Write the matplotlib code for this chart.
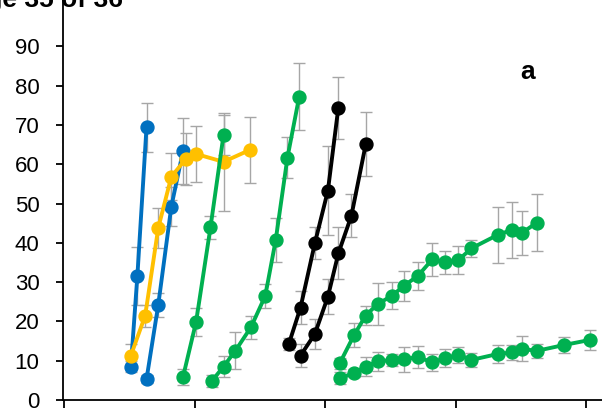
import matplotlib.pyplot as plt

# x positions (days) and mean values with error bars
blue1_x = [5.1, 5.6, 6.3]
blue1_y = [8.5, 31.6, 69.4]
blue1_err = [1.5, 7.3, 6.2]

blue2_x = [6.3, 7.2, 8.2, 9.1]
blue2_y = [5.3, 24.2, 49.2, 63.4]
blue2_err = [1.0, 3.0, 5.0, 8.4]

yellow_x = [5.1, 6.2, 7.2, 8.2, 9.3, 10.1, 12.2, 14.2]
yellow_y = [11.3, 21.5, 43.8, 56.8, 61.3, 62.6, 60.6, 63.6]
yellow_err = [3.0, 2.8, 5.0, 6.0, 6.6, 7.1, 12.5, 8.3]

green1_x = [9.1, 10.1, 11.2, 12.2]
green1_y = [5.9, 19.9, 43.9, 67.4]
green1_err = [2.0, 3.5, 3.0, 5.0]

green2_x = [11.3, 12.2, 13.1, 14.3, 15.4, 16.2, 17.1, 18.0]
green2_y = [4.8, 8.5, 12.5, 18.5, 26.5, 40.7, 61.7, 77.2]
green2_err = [1.5, 2.6, 4.7, 3.0, 3.0, 5.5, 5.2, 8.5]

black1_x = [17.2, 18.1, 19.2, 20.2, 21.0]
black1_y = [14.2, 23.5, 39.9, 53.3, 74.4]
black1_err = [1.5, 4.2, 4.0, 11.4, 7.9]

black2_x = [18.1, 19.2, 20.2, 21.0, 22.0, 23.1]
black2_y = [11.3, 16.8, 26.3, 37.3, 46.9, 65.1]
black2_err = [3.0, 3.7, 4.5, 6.6, 5.5, 8.1]

green3_x = [21.1, 22.2, 23.1, 24.0, 25.1, 26.0, 27.1, 28.2, 29.2, 30.2, 31.2,
            33.2, 34.3, 35.1, 36.2]
green3_y = [9.3, 16.5, 21.5, 24.4, 26.5, 29.0, 31.6, 35.8, 35.0, 35.6, 38.6,
            42.0, 43.3, 42.6, 45.1]
green3_err = [1.5, 3.0, 2.5, 5.3, 3.4, 3.9, 3.5, 4.2, 3.0, 3.5, 2.2,
              7.1, 7.2, 5.6, 7.3]

green4_x = [21.1, 22.2, 23.1, 24.0, 25.1, 26.0, 27.1, 28.2, 29.2, 30.2, 31.2,
            33.2, 34.3, 35.1, 36.2, 38.3, 40.3]
green4_y = [5.5, 6.9, 8.5, 9.8, 10.2, 10.4, 10.9, 9.6, 10.6, 11.5, 10.2,
            11.7, 12.1, 13.0, 12.5, 14.0, 15.3]
green4_err = [1.5, 1.0, 2.5, 2.5, 1.5, 3.2, 2.8, 2.1, 2.3, 2.0, 1.8,
              2.3, 2.0, 3.2, 1.7, 2.1, 2.5]

AZUL = "#0070C0"
AMARELO = "#FFC000"
VERDE = "#00B050"
PRETO = "#000000"
CINZA = "#A6A6A6"

series = [
    (blue1_x, blue1_y, blue1_err, AZUL),
    (blue2_x, blue2_y, blue2_err, AZUL),
    (yellow_x, yellow_y, yellow_err, AMARELO),
    (green1_x, green1_y, green1_err, VERDE),
    (green2_x, green2_y, green2_err, VERDE),
    (black1_x, black1_y, black1_err, PRETO),
    (black2_x, black2_y, black2_err, PRETO),
    (green3_x, green3_y, green3_err, VERDE),
    (green4_x, green4_y, green4_err, VERDE),
]

plt.rcParams['font.family'] = ['Liberation Sans', 'DejaVu Sans']

fig = plt.figure(figsize=(6.02, 4.16), dpi=100)
ax = fig.add_axes([63 / 602, 16 / 416, 1 - 63 / 602, 1 - 16 / 416])

for xs, ys, errs, cor in series:
    ax.errorbar(xs, ys, yerr=errs, fmt='none', ecolor=CINZA, elinewidth=1.0,
                capsize=4, capthick=1.0, zorder=1)
    ax.plot(xs, ys, color=cor, lw=2.8, marker='o', markersize=9.3, zorder=3)

ax.set_xlim(-0.1, (602 - 63) / 13.05 - 0.1)
ax.set_ylim(0, 400 / 3.93)
ax.set_yticks(range(0, 100, 10))
ax.set_xticks([0, 10, 20, 30, 40])
ax.tick_params(axis='x', direction='out', length=6, width=1.3, labelbottom=False)
ax.tick_params(axis='y', direction='out', length=5, width=1.3, labelsize=16, pad=12)
for lado in ['top', 'right']:
    ax.spines[lado].set_visible(False)
for lado in ['left', 'bottom']:
    ax.spines[lado].set_linewidth(1.3)
ax.patch.set_alpha(0)

fig.text(528 / 602, 1 - 72 / 416, 'a', fontsize=19, fontweight='bold',
         ha='center', va='center')
fig.text(123 / 602, 1 - 7 / 416, 'Page 35 of 36', fontsize=19, fontweight='bold',
         ha='right', va='baseline')

fig.savefig('out.png', dpi=100)
plt.close(fig)
